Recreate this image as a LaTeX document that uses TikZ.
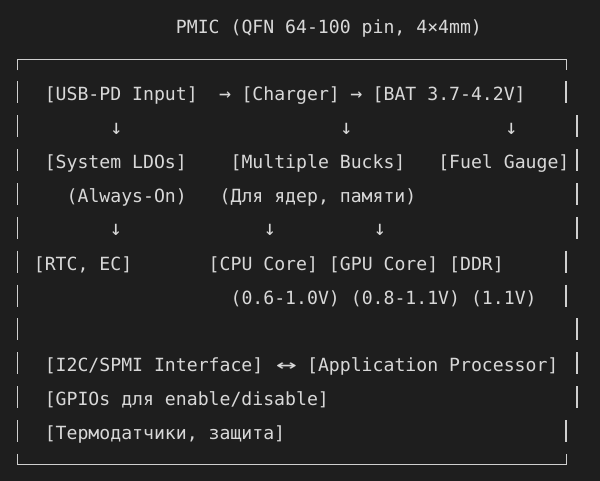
\documentclass[tikz,border=0pt]{standalone}
\usepackage{fontspec}
\usepackage{graphicx}
\newfontfamily\monofam{DejaVu Sans Mono}
\definecolor{bgc}{HTML}{1E1E1E}
\definecolor{fgc}{HTML}{D8D8D8}
\definecolor{brc}{HTML}{CFCFCF}
\tikzset{
  txt/.style={anchor=base west, inner sep=0pt, outer sep=0pt, text=fgc,
    font=\monofam\fontsize{18.15}{20}\selectfont},
  glyph/.style={anchor=base, inner sep=0pt, outer sep=0pt, text=fgc,
    font=\monofam\fontsize{18.15}{20}\selectfont},
  bar/.style={draw=brc, line width=1.9pt},
}
\begin{document}
\begin{tikzpicture}[x=1pt,y=-1pt]
\useasboundingbox (0,0) rectangle (600,481);
\fill[bgc] (0,0) rectangle (600,481);

% title
\node[txt] (title) at ({12+15*10.93},33.3) {PMIC (QFN 64-100 pin, 4×4mm)};

% box border
\draw[bar] (17.5,70.5) -- (17.5,59.5) -- (566.5,59.5) -- (566.5,70.5);
\draw[bar] (17.5,453.5) -- (17.5,464.5) -- (566.5,464.5) -- (566.5,453.5);
\foreach \b/\rx in {101/566, 134.85/577, 168.7/577, 202.55/577, 236.4/577,
  270.25/566, 304.1/566, 337.95/577, 371.8/577, 405.65/577, 439.5/566} {
  \draw[bar] (17.5,{\b-19.5}) -- (17.5,{\b+2.5});
  \draw[bar] (\rx,{\b-19.5}) -- (\rx,{\b+2.5});
}

% row 1
\node[txt] (usb) at ({12+3*10.93},101) {[USB-PD Input]};
\node[glyph] (ar1) at ({12+19.5*10.93},101) {\scalebox{1.1}{→}};
\node[txt] (chg) at ({12+21*10.93},101) {[Charger]};
\node[glyph] (ar2) at ({12+31.5*10.93},101) {\scalebox{1.1}{→}};
\node[txt] (bat) at ({12+33*10.93},101) {[BAT 3.7-4.2V]};

% row 2
\node[glyph] (d1) at (116.5,134.5) {\scalebox{1.15}{↓}};
\node[glyph] (d2) at (346.5,134.5) {\scalebox{1.15}{↓}};
\node[glyph] (d3) at (511.5,134.5) {\scalebox{1.15}{↓}};

% row 3
\node[txt] (ldo) at ({12+3*10.93},168.7) {[System LDOs]};
\node[txt] (buck) at ({12+20*10.93},168.7) {[Multiple Bucks]};
\node[txt] (fuel) at ({12+39*10.93},168.7) {[Fuel Gauge]};

% row 4
\node[txt] (aon) at ({12+5*10.93},202.55) {(Always-On)};
\node[txt] (core) at ({12+19*10.93},202.55) {(Для ядер, памяти)};

% row 5
\node[glyph] (d4) at (116,236) {\scalebox{1.15}{↓}};
\node[glyph] (d5) at (270,236) {\scalebox{1.15}{↓}};
\node[glyph] (d6) at (380,236) {\scalebox{1.15}{↓}};

% row 6
\node[txt] (rtc) at ({12+2*10.93},270.25) {[RTC, EC]};
\node[txt] (cpu) at ({12+18*10.93},270.25) {[CPU Core]};
\node[txt] (gpu) at ({12+29*10.93},270.25) {[GPU Core]};
\node[txt] (ddr) at ({12+40*10.93},270.25) {[DDR]};

% row 7
\node[txt] (vcpu) at ({12+20*10.93},304.1) {(0.6-1.0V)};
\node[txt] (vgpu) at ({12+31*10.93},304.1) {(0.8-1.1V)};
\node[txt] (vddr) at ({12+42*10.93},304.1) {(1.1V)};

% row 9
\node[txt] (i2c) at ({12+3*10.93},371.8) {[I2C/SPMI Interface]};
\node[glyph] (lr) at (286.5,371.8) {\scalebox{1.9}[1.1]{↔}};
\node[txt] (ap) at ({12+27*10.93},371.8) {[Application Processor]};

% row 10
\node[txt] (gpio) at ({12+3*10.93},405.65) {[GPIOs для enable/disable]};

% row 11
\node[txt] (therm) at ({12+3*10.93},439.5) {[Термодатчики, защита]};
\end{tikzpicture}
\end{document}
